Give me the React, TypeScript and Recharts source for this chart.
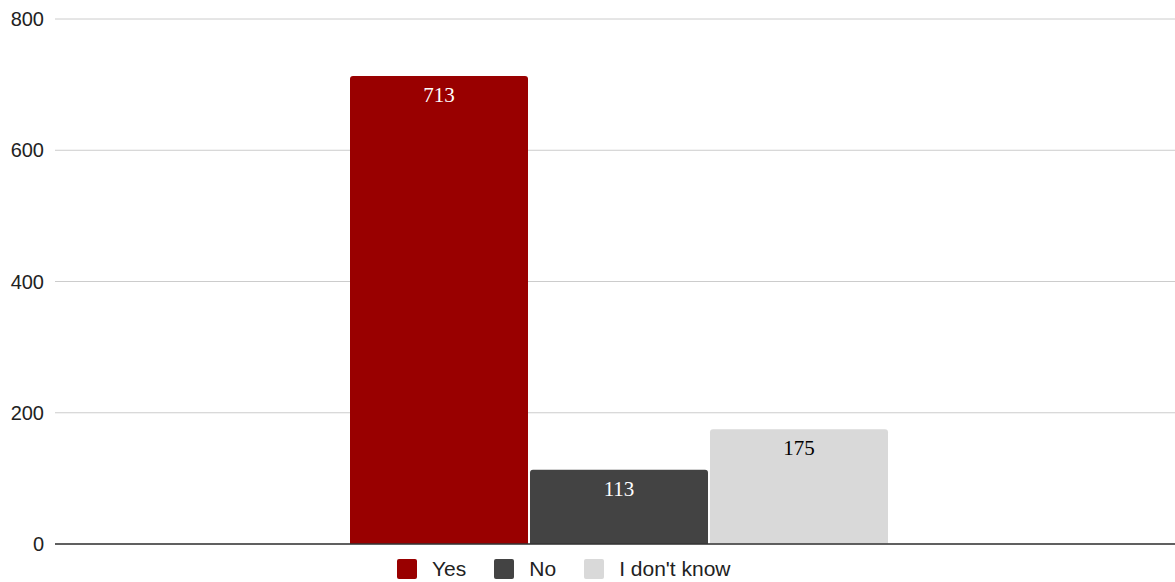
import React from "react";
import { BarChart, Bar, XAxis, YAxis, CartesianGrid, LabelList } from "recharts";

const categories = ["Response"];
const yesValues = [713];
const noValues = [113];
const unknownValues = [175];
const yTicks = [0, 200, 400, 600, 800];
const seriesNames = ["Yes", "No", "I don't know"];
const seriesColors = ["#990000", "#434343", "#d9d9d9"];
const labelColors = ["#ffffff", "#ffffff", "#000000"];

const data = categories.map((c, i) => ({
  name: c,
  yes: yesValues[i],
  no: noValues[i],
  unknown: unknownValues[i],
}));

const keys = ["yes", "no", "unknown"];

const LegendContent = () => (
  <div
    style={{
      position: "absolute",
      left: 397,
      top: 559,
      display: "flex",
      alignItems: "center",
      fontFamily: "Liberation Sans, Arial, sans-serif",
      fontSize: 21,
      lineHeight: "20px",
      color: "#222",
    }}
  >
    {seriesNames.map((n, i) => (
      <div key={n} style={{ display: "flex", alignItems: "center", marginRight: i < 2 ? 28 : 0 }}>
        <span
          style={{
            display: "inline-block",
            width: 20,
            height: 20,
            background: seriesColors[i],
            borderRadius: 2,
            marginRight: 15,
          }}
        />
        <span>{n}</span>
      </div>
    ))}
  </div>
);

export default function App() {
  return (
    <div style={{ position: "fixed", left: 0, top: 0, width: 1175, height: 582, background: "#fff", overflow: "hidden" }}>
      <BarChart
        width={1183}
        height={582}
        data={data}
        margin={{ top: 19, right: 0, bottom: 37, left: 0 }}
        barSize={178}
        barGap={2}
      >
        <CartesianGrid vertical={false} stroke="#cccccc" strokeWidth={1} />
        <XAxis dataKey="name" tick={false} tickLine={false} axisLine={{ stroke: "#333333", strokeWidth: 1.5 }} height={1} />
        <YAxis
          domain={[0, 800]}
          ticks={yTicks}
          width={55}
          axisLine={false}
          tickLine={false}
          tickMargin={5}
          tick={{ fontSize: 20, fill: "#222", fontFamily: "Liberation Sans, Arial, sans-serif" }}
        />
        {keys.map((k, i) => (
          <Bar
            key={k}
            dataKey={k}
            name={seriesNames[i]}
            fill={seriesColors[i]}
            radius={[3, 3, 0, 0]}
            isAnimationActive={false}
          >
            <LabelList
              dataKey={k}
              position="insideTop"
              offset={11}
              style={{
                fill: labelColors[i],
                fontSize: 21,
                fontFamily: "Liberation Serif, Times New Roman, serif",
              }}
            />
          </Bar>
        ))}
      </BarChart>
      <LegendContent />
    </div>
  );
}
